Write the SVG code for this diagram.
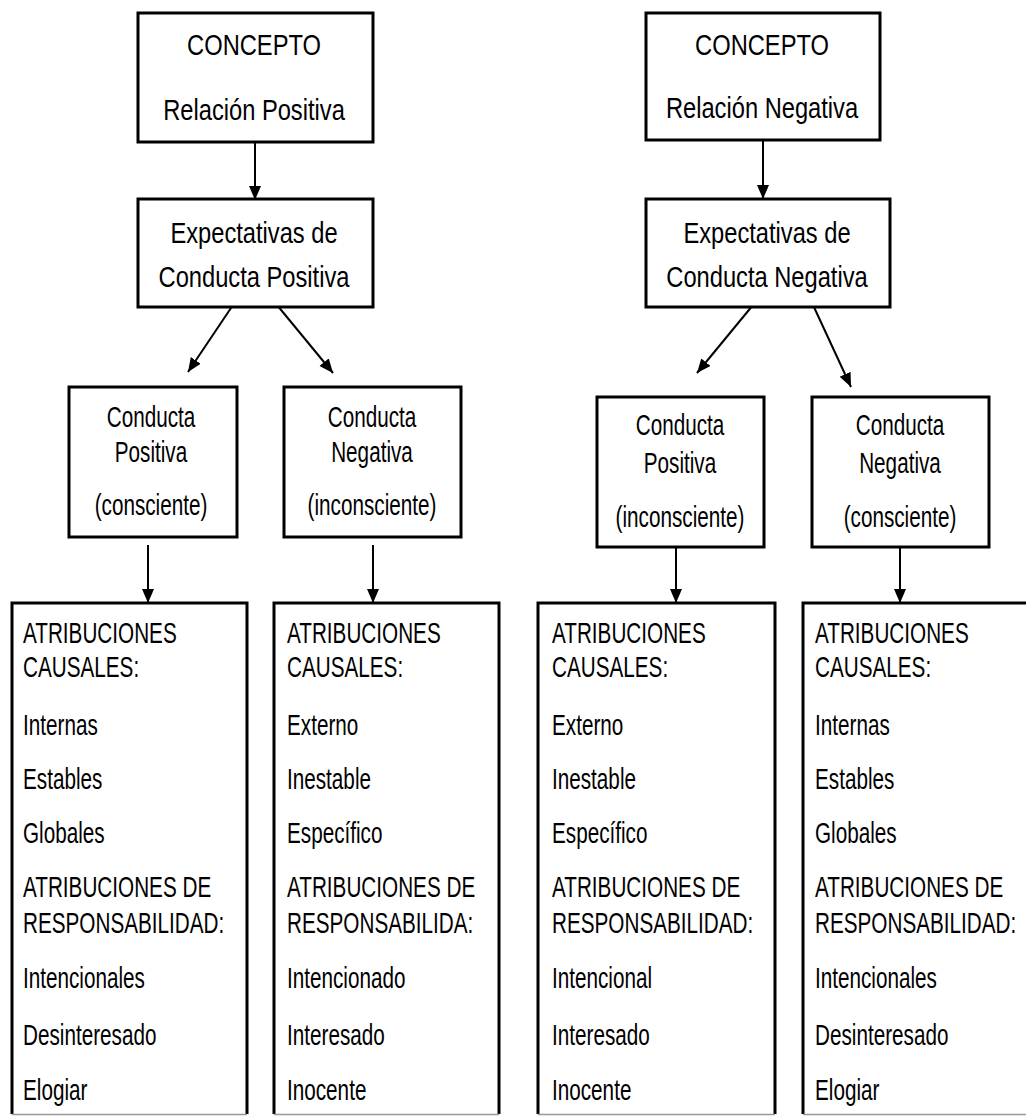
<svg xmlns="http://www.w3.org/2000/svg" width="1026" height="1116" viewBox="0 0 1026 1116">
<style>
  .box { fill: #fff; stroke: #000; stroke-width: 3; }
  .side { fill: none; stroke: #000; stroke-width: 3; }
  .base { stroke: #999; stroke-width: 1.5; }
  .t { font-family: "Liberation Sans", Arial, sans-serif; font-size: 30px; fill: #000; }
  .c { text-anchor: middle; }
  .conn { stroke: #000; stroke-width: 2; fill: none; marker-end: url(#ah); }
</style>
<defs>
  <marker id="ah" markerUnits="userSpaceOnUse" markerWidth="14" markerHeight="16" refX="14" refY="6" orient="auto">
    <path d="M0,0 L14,6 L0,12 Z" fill="#000"/>
  </marker>
</defs>
<rect width="1026" height="1116" fill="#fff"/>

<g id="connectors">
  <line class="conn" x1="255" y1="142" x2="255" y2="200"/>
  <line class="conn" x1="763" y1="140" x2="763" y2="199"/>
  <line class="conn" x1="233" y1="305" x2="188" y2="372"/>
  <line class="conn" x1="277" y1="305" x2="333" y2="373"/>
  <line class="conn" x1="753" y1="305" x2="697" y2="373"/>
  <line class="conn" x1="813" y1="305" x2="851" y2="387"/>
  <line class="conn" x1="148" y1="545" x2="148" y2="603"/>
  <line class="conn" x1="373" y1="545" x2="373" y2="603"/>
  <line class="conn" x1="676" y1="547" x2="676" y2="603"/>
  <line class="conn" x1="900" y1="547" x2="900" y2="603"/>
</g>

<g id="concepto-positiva">
  <rect class="box" x="138" y="13" width="235" height="129"/>
  <g transform="translate(254,0) scale(0.79,1)">
    <text class="t c" x="0" y="55">CONCEPTO</text>
    <text class="t c" x="0" y="120">Relación Positiva</text>
  </g>
</g>

<g id="expectativas-positiva">
  <rect class="box" x="138" y="199" width="235" height="108"/>
  <g transform="translate(254,0) scale(0.79,1)">
    <text class="t c" x="0" y="243">Expectativas de</text>
    <text class="t c" x="0" y="287">Conducta Positiva</text>
  </g>
</g>

<g id="concepto-negativa">
  <rect class="box" x="646" y="13" width="234" height="127"/>
  <g transform="translate(762,0) scale(0.79,1)">
    <text class="t c" x="0" y="55">CONCEPTO</text>
    <text class="t c" x="0" y="118">Relación Negativa</text>
  </g>
</g>

<g id="expectativas-negativa">
  <rect class="box" x="646" y="199" width="244" height="108"/>
  <g transform="translate(767,0) scale(0.79,1)">
    <text class="t c" x="0" y="243">Expectativas de</text>
    <text class="t c" x="0" y="287">Conducta Negativa</text>
  </g>
</g>

<g id="conducta-positiva-consciente">
  <rect class="box" x="69" y="387" width="168" height="150"/>
  <g transform="translate(151,0) scale(0.69,1)">
    <text class="t c" x="0" y="427">Conducta</text>
    <text class="t c" x="0" y="462">Positiva</text>
    <text class="t c" x="0" y="515">(consciente)</text>
  </g>
</g>

<g id="conducta-negativa-inconsciente">
  <rect class="box" x="284" y="387" width="177" height="150"/>
  <g transform="translate(372,0) scale(0.69,1)">
    <text class="t c" x="0" y="427">Conducta</text>
    <text class="t c" x="0" y="462">Negativa</text>
    <text class="t c" x="0" y="515">(inconsciente)</text>
  </g>
</g>

<g id="conducta-positiva-inconsciente">
  <rect class="box" x="597" y="397" width="167" height="150"/>
  <g transform="translate(680,0) scale(0.69,1)">
    <text class="t c" x="0" y="435">Conducta</text>
    <text class="t c" x="0" y="473">Positiva</text>
    <text class="t c" x="0" y="527">(inconsciente)</text>
  </g>
</g>

<g id="conducta-negativa-consciente">
  <rect class="box" x="812" y="397" width="177" height="150"/>
  <g transform="translate(900,0) scale(0.69,1)">
    <text class="t c" x="0" y="435">Conducta</text>
    <text class="t c" x="0" y="473">Negativa</text>
    <text class="t c" x="0" y="527">(consciente)</text>
  </g>
</g>

<g id="atribuciones-1">
  <path class="side" d="M12,1114 V603 H247 V1114"/>
  <line class="base" x1="12" y1="1114.5" x2="247" y2="1114.5"/>
  <g transform="translate(23,0) scale(0.69,1)">
    <text class="t" x="0" y="643">ATRIBUCIONES</text>
    <text class="t" x="0" y="677">CAUSALES:</text>
    <text class="t" x="0" y="735">Internas</text>
    <text class="t" x="0" y="789">Estables</text>
    <text class="t" x="0" y="843">Globales</text>
    <text class="t" x="0" y="897">ATRIBUCIONES DE</text>
    <text class="t" x="0" y="933">RESPONSABILIDAD:</text>
    <text class="t" x="0" y="988">Intencionales</text>
    <text class="t" x="0" y="1045">Desinteresado</text>
    <text class="t" x="0" y="1100">Elogiar</text>
  </g>
</g>

<g id="atribuciones-2">
  <path class="side" d="M274,1114 V603 H499 V1114"/>
  <line class="base" x1="274" y1="1114.5" x2="499" y2="1114.5"/>
  <g transform="translate(287,0) scale(0.69,1)">
    <text class="t" x="0" y="643">ATRIBUCIONES</text>
    <text class="t" x="0" y="677">CAUSALES:</text>
    <text class="t" x="0" y="735">Externo</text>
    <text class="t" x="0" y="789">Inestable</text>
    <text class="t" x="0" y="843">Específico</text>
    <text class="t" x="0" y="897">ATRIBUCIONES DE</text>
    <text class="t" x="0" y="933">RESPONSABILIDA:</text>
    <text class="t" x="0" y="988">Intencionado</text>
    <text class="t" x="0" y="1045">Interesado</text>
    <text class="t" x="0" y="1100">Inocente</text>
  </g>
</g>

<g id="atribuciones-3">
  <path class="side" d="M538,1114 V603 H775 V1114"/>
  <line class="base" x1="538" y1="1114.5" x2="775" y2="1114.5"/>
  <g transform="translate(552,0) scale(0.69,1)">
    <text class="t" x="0" y="643">ATRIBUCIONES</text>
    <text class="t" x="0" y="677">CAUSALES:</text>
    <text class="t" x="0" y="735">Externo</text>
    <text class="t" x="0" y="789">Inestable</text>
    <text class="t" x="0" y="843">Específico</text>
    <text class="t" x="0" y="897">ATRIBUCIONES DE</text>
    <text class="t" x="0" y="933">RESPONSABILIDAD:</text>
    <text class="t" x="0" y="988">Intencional</text>
    <text class="t" x="0" y="1045">Interesado</text>
    <text class="t" x="0" y="1100">Inocente</text>
  </g>
</g>

<g id="atribuciones-4">
  <path class="side" d="M803,1114 V603 H1040"/>
  <line class="base" x1="803" y1="1114.5" x2="1026" y2="1114.5"/>
  <g transform="translate(815,0) scale(0.69,1)">
    <text class="t" x="0" y="643">ATRIBUCIONES</text>
    <text class="t" x="0" y="677">CAUSALES:</text>
    <text class="t" x="0" y="735">Internas</text>
    <text class="t" x="0" y="789">Estables</text>
    <text class="t" x="0" y="843">Globales</text>
    <text class="t" x="0" y="897">ATRIBUCIONES DE</text>
    <text class="t" x="0" y="933">RESPONSABILIDAD:</text>
    <text class="t" x="0" y="988">Intencionales</text>
    <text class="t" x="0" y="1045">Desinteresado</text>
    <text class="t" x="0" y="1100">Elogiar</text>
  </g>
</g>
</svg>
